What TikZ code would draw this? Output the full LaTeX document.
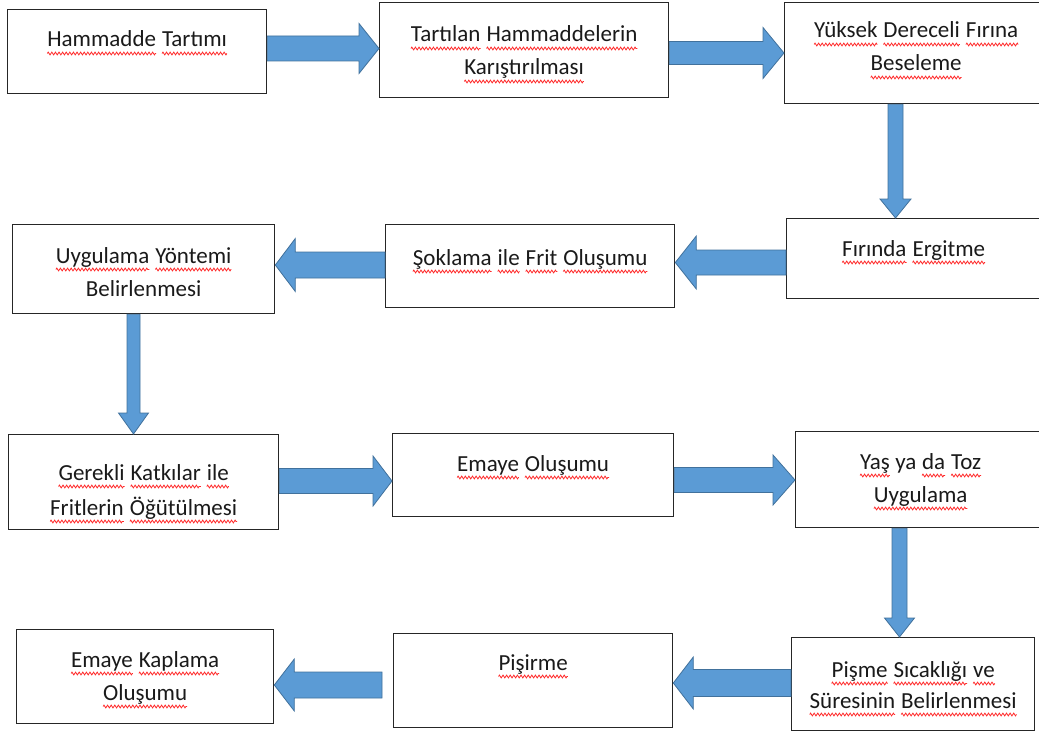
\documentclass[tikz,border=0pt]{standalone}
\usepackage{fontspec}
\setmainfont{Carlito}
\usetikzlibrary{calc,decorations.pathmorphing}
\definecolor{arrowfill}{HTML}{5B9BD5}
\definecolor{arrowline}{HTML}{41719C}
\definecolor{boxline}{HTML}{262626}
\definecolor{txtcol}{HTML}{1A1A1A}
\definecolor{wavered}{HTML}{FF2A2A}
\newcommand\uw[1]{\tikz[baseline=(uwn.base)]{\node[inner sep=0pt,outer sep=0pt] (uwn) {#1};
  \draw[wavered,line width=0.8pt,decorate,decoration={zigzag,amplitude=1.4pt,segment length=3.6pt}]
  ([yshift=-6.5pt]uwn.base west) -- ([yshift=-6.5pt]uwn.base east);}}
% right arrow: #1 start coord, #2 tip coord, #3 yc, #4 shaft half, #5 head half, #6 head length
\newcommand\rarrow[6]{\draw[barrow] let \p1=#1, \p2=#2 in
  ({\x1},{-#3pt+#4pt}) -- ({\x2-#6pt},{-#3pt+#4pt}) -- ({\x2-#6pt},{-#3pt+#5pt}) -- ({\x2},{-#3pt})
  -- ({\x2-#6pt},{-#3pt-#5pt}) -- ({\x2-#6pt},{-#3pt-#4pt}) -- ({\x1},{-#3pt-#4pt}) -- cycle;}
\newcommand\larrow[6]{\draw[barrow] let \p1=#1, \p2=#2 in
  ({\x1},{-#3pt+#4pt}) -- ({\x2+#6pt},{-#3pt+#4pt}) -- ({\x2+#6pt},{-#3pt+#5pt}) -- ({\x2},{-#3pt})
  -- ({\x2+#6pt},{-#3pt-#5pt}) -- ({\x2+#6pt},{-#3pt-#4pt}) -- ({\x1},{-#3pt-#4pt}) -- cycle;}
% down arrow: #3 xc
\newcommand\darrow[6]{\draw[barrow] let \p1=#1, \p2=#2 in
  ({#3pt-#4pt},{\y1}) -- ({#3pt-#4pt},{\y2+#6pt}) -- ({#3pt-#5pt},{\y2+#6pt}) -- ({#3pt},{\y2})
  -- ({#3pt+#5pt},{\y2+#6pt}) -- ({#3pt+#4pt},{\y2+#6pt}) -- ({#3pt+#4pt},{\y1}) -- cycle;}
\begin{document}
\begin{tikzpicture}[x=1pt,y=-1pt,
  box/.style={draw=boxline,line width=1.3pt,fill=white,anchor=north west,inner sep=0pt},
  txt/.style={anchor=base,inner sep=0pt,align=center,text=txtcol,font=\fontsize{23}{33}\selectfont},
  barrow/.style={fill=arrowfill,draw=arrowline,line width=0.8pt,line join=miter}]
\useasboundingbox (0,0) rectangle (1039,733);
\clip (0,0) rectangle (1039,733);
% boxes
\node[box,minimum width=259pt,minimum height=84pt] (b1) at (7,9) {};
\node[box,minimum width=289pt,minimum height=95pt] (b2) at (379,2) {};
\node[box,minimum width=263pt,minimum height=101pt] (b3) at (784,2) {};
\node[box,minimum width=254pt,minimum height=80pt] (b6) at (786,218) {};
\node[box,minimum width=289pt,minimum height=83pt] (b5) at (385,224) {};
\node[box,minimum width=262pt,minimum height=89pt] (b4) at (12,224) {};
\node[box,minimum width=270pt,minimum height=95pt] (b7) at (8,434) {};
\node[box,minimum width=281pt,minimum height=83pt] (b8) at (392,433) {};
\node[box,minimum width=250pt,minimum height=96pt] (b9) at (795,431) {};
\node[box,minimum width=243pt,minimum height=93pt] (b12) at (791,637) {};
\node[box,minimum width=279pt,minimum height=94pt] (b11) at (393,633) {};
\node[box,minimum width=257pt,minimum height=94pt] (b10) at (16,629) {};
% texts (anchor base = baseline of the last line)
\node[txt] (t1) at ([yshift=-38pt]b1.north) {\uw{Hammadde} \uw{Tartımı}};
\node[txt] (t2) at ([yshift=-73pt]b2.north) {\uw{Tartılan} \uw{Hammaddelerin}\\\uw{Karıştırılması}};
\node[txt] (t3) at ([yshift=-69pt]b3.north) {\uw{Yüksek} \uw{Dereceli} \uw{Fırına}\\\uw{Beseleme}};
\node[txt] (t4) at ([yshift=-72pt]b4.north) {\uw{Uygulama} \uw{Yöntemi}\\Belirlenmesi};
\node[txt] (t5) at ([yshift=-41pt]b5.north) {\uw{Şoklama} \uw{ile} \uw{Frit} \uw{Oluşumu}};
\node[txt] (t6) at ([yshift=-38pt]b6.north) {\uw{Fırında} \uw{Ergitme}};
\node[txt,font=\fontsize{23}{35}\selectfont] (t7) at ([yshift=-81pt]b7.north) {\uw{Gerekli} \uw{Katkılar} \uw{ile}\\\uw{Fritlerin} \uw{Öğütülmesi}};
\node[txt] (t8) at ([yshift=-38pt]b8.north) {\uw{Emaye} \uw{Oluşumu}};
\node[txt] (t9) at ([yshift=-71pt]b9.north) {\uw{Yaş} ya \uw{da} \uw{Toz}\\\uw{Uygulama}};
\node[txt] (t10) at ([yshift=-71pt]b10.north) {\uw{Emaye} \uw{Kaplama}\\\uw{Oluşumu}};
\node[txt] (t11) at ([yshift=-37pt]b11.north) {\uw{Pişirme}};
\node[txt,font=\fontsize{23}{31}\selectfont] (t12) at ([yshift=-71pt]b12.north) {\uw{Pişme} \uw{Sıcaklığı} \uw{ve}\\\uw{Süresinin} \uw{Belirlenmesi}};
% arrows
\rarrow{(b1.east)}{(b2.west)}{48.5}{12.5}{25}{20}
\rarrow{(b2.east)}{(b3.west)}{53}{11.5}{25.5}{21}
\darrow{(b3.south)}{(b6.north)}{895.5}{7.5}{15.5}{19}
\larrow{(b6.west)}{(b5.east)}{262.5}{12.5}{26.5}{21}
\larrow{(b5.west)}{(b4.east)}{265}{13}{26.5}{20}
\darrow{(b4.south)}{(b7.north)}{133.5}{6.5}{15}{21}
\rarrow{(b7.east)}{(b8.west)}{481}{12.5}{25}{19}
\rarrow{(b8.east)}{(b9.west)}{480}{12.5}{25}{22}
\darrow{(b9.south)}{(b12.north)}{899.5}{7.5}{15}{19}
\larrow{(b12.west)}{(b11.east)}{683}{13.5}{26}{20}
\larrow{([xshift=-11pt]b11.west)}{(b10.east)}{685}{13}{26}{20}
\end{tikzpicture}
\end{document}
